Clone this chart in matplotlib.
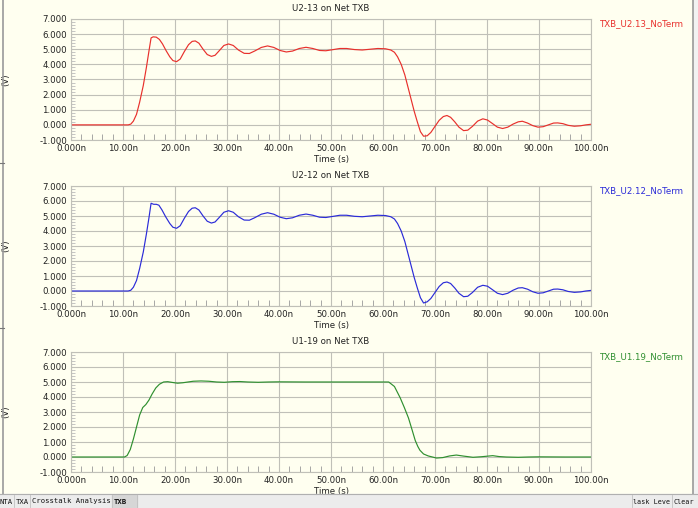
import matplotlib
matplotlib.use("Agg")
import matplotlib.pyplot as plt
from matplotlib.patches import Rectangle
from matplotlib.lines import Line2D
from matplotlib.ticker import MultipleLocator, FixedLocator

# ---- data (time in ns, voltage in V) ----
red_t = [0, 11.0, 11.5, 12.0, 12.6, 13.2, 13.9, 14.5, 15.0, 15.4, 15.8, 16.4, 17.0, 17.6,
         18.3, 19.0, 19.6, 20.3, 21.0, 21.8, 22.6, 23.3, 23.9, 24.6, 25.4, 26.2, 27.0, 27.7,
         28.5, 29.4, 30.3, 31.2, 32.2, 33.3, 34.3, 35.3, 36.6, 37.8, 39.0, 40.2, 41.4, 42.6,
         43.9, 45.2, 46.5, 47.8, 49.0, 50.3, 51.7, 53.0, 54.5, 56.0, 57.5, 59.0, 60.5, 61.5,
         62.2, 62.8, 63.5, 64.2, 64.8, 65.4, 66.0, 66.6, 67.2, 67.8, 68.5, 69.2, 70.0, 70.8,
         71.6, 72.3, 73.0, 73.8, 74.6, 75.5, 76.3, 77.2, 78.2, 79.2, 80.1, 81.0, 82.0, 83.0,
         84.0, 85.0, 86.0, 86.8, 87.8, 88.8, 89.8, 90.8, 91.8, 92.8, 93.6, 94.6, 95.6, 96.8,
         98.0, 99.0, 100]
red_v = [0, 0, 0.05, 0.25, 0.7, 1.5, 2.6, 3.8, 4.9, 5.75, 5.82, 5.80, 5.65, 5.35,
         4.9, 4.5, 4.25, 4.18, 4.35, 4.85, 5.3, 5.52, 5.55, 5.4, 5.0, 4.65, 4.53, 4.6,
         4.9, 5.25, 5.35, 5.25, 4.95, 4.73, 4.72, 4.88, 5.12, 5.22, 5.12, 4.92, 4.82, 4.88,
         5.05, 5.13, 5.05, 4.92, 4.9, 4.97, 5.05, 5.05, 4.98, 4.95, 5.0, 5.05, 5.03, 4.95,
         4.8, 4.5, 4.0, 3.3, 2.5, 1.7, 0.9, 0.2, -0.45, -0.75, -0.72, -0.5, -0.1, 0.3,
         0.55, 0.62, 0.5, 0.2, -0.15, -0.38, -0.35, -0.1, 0.25, 0.4, 0.32, 0.1, -0.15, -0.24,
         -0.15, 0.05, 0.2, 0.24, 0.12, -0.05, -0.15, -0.12, 0.0, 0.12, 0.13, 0.08, -0.03, -0.09,
         -0.06, 0.0, 0.04]

blue_t = [0, 11.0, 11.5, 12.0, 12.6, 13.2, 13.9, 14.5, 15.0, 15.4, 15.9, 16.4, 16.9, 17.5,
          18.2, 19.0, 19.6, 20.3, 21.0, 21.8, 22.6, 23.3, 23.9, 24.6, 25.4, 26.2, 27.0, 27.7,
          28.5, 29.4, 30.3, 31.2, 32.2, 33.3, 34.3, 35.3, 36.6, 37.8, 39.0, 40.2, 41.4, 42.6,
          43.9, 45.2, 46.5, 47.8, 49.0, 50.3, 51.7, 53.0, 54.5, 56.0, 57.5, 59.0, 60.5, 61.5,
          62.2, 62.8, 63.5, 64.2, 64.8, 65.4, 66.0, 66.6, 67.2, 67.8, 68.5, 69.2, 70.0, 70.8,
          71.6, 72.3, 73.0, 73.8, 74.6, 75.5, 76.3, 77.2, 78.2, 79.2, 80.1, 81.0, 82.0, 83.0,
          84.0, 85.0, 86.0, 86.8, 87.8, 88.8, 89.8, 90.8, 91.8, 92.8, 93.6, 94.6, 95.6, 96.8,
          98.0, 99.0, 100]
blue_v = [0, 0, 0.05, 0.25, 0.7, 1.5, 2.6, 3.8, 4.9, 5.85, 5.78, 5.78, 5.72, 5.4,
          4.95, 4.5, 4.25, 4.18, 4.35, 4.85, 5.3, 5.52, 5.55, 5.4, 5.0, 4.65, 4.53, 4.6,
          4.9, 5.25, 5.35, 5.25, 4.95, 4.73, 4.72, 4.88, 5.12, 5.22, 5.12, 4.92, 4.82, 4.88,
          5.05, 5.13, 5.05, 4.92, 4.9, 4.97, 5.05, 5.05, 4.98, 4.95, 5.0, 5.05, 5.03, 4.95,
          4.8, 4.5, 4.0, 3.3, 2.5, 1.7, 0.9, 0.2, -0.45, -0.8, -0.72, -0.5, -0.1, 0.3,
          0.55, 0.6, 0.5, 0.2, -0.15, -0.38, -0.35, -0.1, 0.25, 0.38, 0.32, 0.1, -0.15, -0.24,
          -0.15, 0.05, 0.2, 0.22, 0.12, -0.05, -0.15, -0.12, 0.0, 0.12, 0.13, 0.08, -0.03, -0.09,
          -0.06, 0.0, 0.04]

green_t = [0, 10.3, 10.8, 11.4, 12.0, 12.6, 13.2, 13.8, 14.4, 15.0, 15.6, 16.3, 17.0, 17.8,
           18.6, 19.5, 20.5, 21.5, 22.5, 23.5, 25.0, 26.5, 28.0, 29.5, 31.0, 32.5, 34.0, 36.0,
           38.0, 40.0, 45.0, 50.0, 55.0, 60.0, 61.1, 62.2, 63.3, 64.1, 64.9, 65.6, 66.2, 66.7,
           67.1, 67.8, 68.7, 70.3, 71.5, 72.8, 74.1, 75.5, 77.3, 79.0, 81.1, 82.3, 83.7, 86.0,
           88.0, 90.0, 95.0, 100]
green_v = [0, 0, 0.1, 0.5, 1.2, 2.0, 2.8, 3.3, 3.5, 3.8, 4.2, 4.6, 4.85, 5.0,
           5.02, 4.97, 4.92, 4.95, 5.0, 5.05, 5.07, 5.05, 5.0, 4.98, 5.02, 5.03, 5.0, 4.98,
           5.0, 5.01, 5.0, 5.0, 5.0, 5.0, 5.0, 4.7, 3.95, 3.3, 2.6, 1.8, 1.1, 0.7,
           0.45, 0.2, 0.07, -0.07, -0.04, 0.07, 0.13, 0.06, -0.02, 0.02, 0.09, 0.03, 0.0, -0.02,
           0.0, 0.01, 0.0, 0.0]

titles = ["U2-13 on Net TXB", "U2-12 on Net TXB", "U1-19 on Net TXB"]
legends = ["TXB_U2.13_NoTerm", "TXB_U2.12_NoTerm", "TXB_U1.19_NoTerm"]
colors = ["#e8302c", "#2b2bd8", "#2f8f2f"]
series = [(red_t, red_v), (blue_t, blue_v), (green_t, green_v)]

x_ticks = [0, 10, 20, 30, 40, 50, 60, 70, 80, 90, 100]
x_labels = ["0.000n", "10.00n", "20.00n", "30.00n", "40.00n", "50.00n",
            "60.00n", "70.00n", "80.00n", "90.00n", "100.00n"]
y_ticks = [-1, 0, 1, 2, 3, 4, 5, 6, 7]
y_labels = ["-1.000", "0.000", "1.000", "2.000", "3.000", "4.000", "5.000", "6.000", "7.000"]

tabs = ["NTA", "TXA", "Crosstalk Analysis", "TXB"]
tab_edges = [-2, 14, 30, 112, 137]   # pixel edges of the tabs

BG = "#fffff0"
GRID = "#c0c0b8"

W, H = 698, 508
fig = plt.figure(figsize=(W / 100, H / 100), dpi=100)
fig.patch.set_facecolor(BG)

# axes boxes in pixels: (top, bottom)
boxes = [(19, 140), (186, 306), (352, 472)]
left_px, right_px = 71, 591

for i, (top, bot) in enumerate(boxes):
    ax = fig.add_axes([left_px / W, 1 - bot / H, (right_px - left_px) / W, (bot - top) / H])
    ax.set_facecolor(BG)
    t, v = series[i]
    ax.plot(t, v, color=colors[i], linewidth=0.85)
    ax.set_xlim(0, 100)
    ax.set_ylim(-1, 7)
    ax.xaxis.set_major_locator(FixedLocator(x_ticks))
    ax.set_xticklabels(x_labels)
    ax.yaxis.set_major_locator(FixedLocator(y_ticks))
    ax.set_yticklabels(y_labels)
    ax.xaxis.set_minor_locator(MultipleLocator(2))
    ax.yaxis.set_minor_locator(MultipleLocator(0.2))
    ax.grid(True, which="major", color=GRID, linewidth=0.8)
    ax.tick_params(which="major", length=0, labelsize=6.2, pad=3, colors="#222222")
    ax.tick_params(axis="x", which="minor", direction="in", length=4, color="#999999")
    ax.tick_params(axis="y", which="minor", direction="in", length=3, color="#bbbbbb")
    for s in ax.spines.values():
        s.set_color(GRID)
        s.set_linewidth(0.8)
    ax.set_xlabel("Time (s)", fontsize=6.2, labelpad=1, color="#222222")
    ax.set_ylabel("(V)", fontsize=6.2, color="#222222")
    ax.yaxis.set_label_coords((10 - left_px) / (right_px - left_px), 0.5)
    ax.set_title(titles[i], fontsize=6.2, pad=6, color="#222222")
    fig.text(600 / W, 1 - (top + 5) / H, legends[i], fontsize=6.2, color=colors[i],
             ha="left", va="center")

# window frame
fig.add_artist(Line2D([2.5 / W, 2.5 / W], [14 / H, 1], color="#9a9a9a", linewidth=1.2))
fig.add_artist(Rectangle((693 / W, 14 / H), 5 / W, 1, color="#f2f2f2", transform=fig.transFigure))
fig.add_artist(Line2D([693 / W, 693 / W], [14 / H, 1], color="#9a9a9a", linewidth=1.2))
for y in (163, 328):
    fig.add_artist(Line2D([0, 4 / W], [1 - y / H, 1 - y / H], color="#777777", linewidth=0.8))

# bottom tab bar
fig.add_artist(Rectangle((0, 0), 1, 14 / H, color="#ececec", transform=fig.transFigure))
fig.add_artist(Line2D([0, 1], [14 / H, 14 / H], color="#b0b0b0", linewidth=0.8))
for k, name in enumerate(tabs):
    x0, x1 = tab_edges[k], tab_edges[k + 1]
    if name == "TXB":
        fig.add_artist(Rectangle((x0 / W, 0), (x1 - x0) / W, 13 / H, color="#d6d6d6",
                                 transform=fig.transFigure))
    fig.text((x0 + 2) / W, 6.5 / H, name, fontsize=5.2, family="DejaVu Sans Mono",
             fontweight="bold" if name == "TXB" else "normal", va="center", ha="left",
             color="#111111")
    fig.add_artist(Line2D([x1 / W, x1 / W], [1 / H, 13 / H], color="#c0c0c0", linewidth=0.6))
fig.add_artist(Line2D([632 / W, 632 / W], [1 / H, 13 / H], color="#c0c0c0", linewidth=0.6))
fig.text(633 / W, 6.5 / H, "lask Leve", fontsize=4.9, family="DejaVu Sans Mono",
         va="center", ha="left", color="#111111")
fig.add_artist(Line2D([672 / W, 672 / W], [1 / H, 13 / H], color="#c0c0c0", linewidth=0.6))
fig.text(674 / W, 6.5 / H, "Clear", fontsize=4.9, family="DejaVu Sans Mono",
         va="center", ha="left", color="#111111")

fig.savefig("out.png", dpi=100, facecolor=fig.get_facecolor())
